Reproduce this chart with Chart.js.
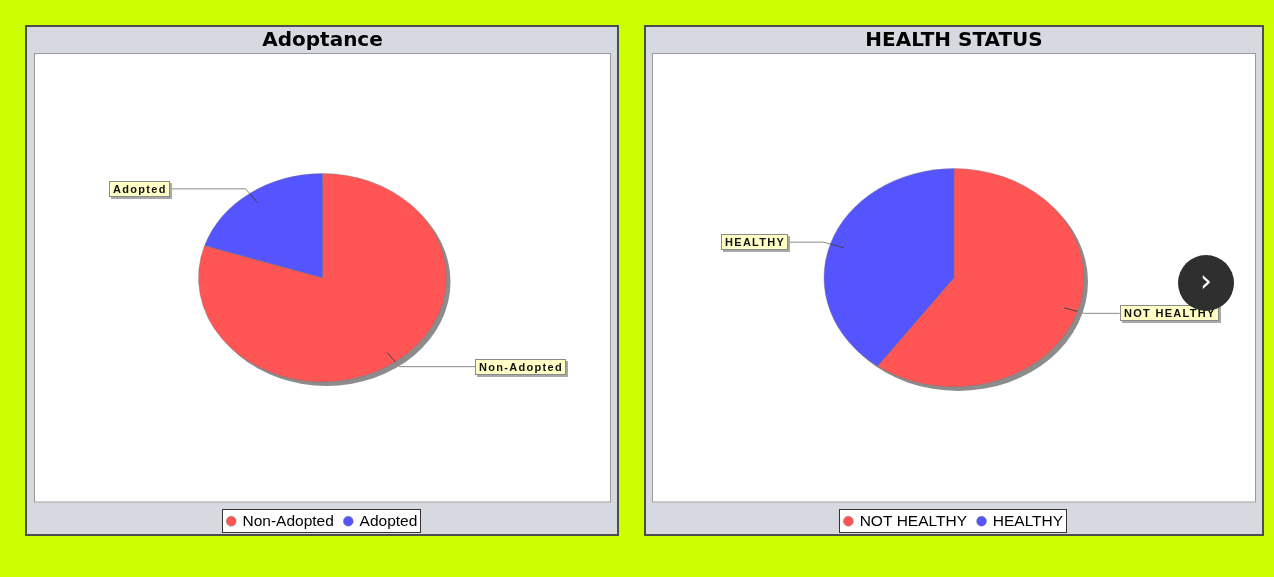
<!DOCTYPE html>
<html><head><meta charset="utf-8">
<script src="https://cdn.jsdelivr.net/npm/chart.js@4"></script>
<style>
html,body{margin:0;padding:0;background:#CCFF00;width:1274px;height:577px;overflow:hidden;}
.panel{position:absolute;box-sizing:border-box;border:2px solid #4d4d4d;background:#D6D9E0;overflow:hidden;}
.panel canvas{display:block;}
#nav{position:absolute;left:1178px;top:255px;width:56px;height:56px;border-radius:50%;background:#2f2f2f;color:#fff;font:30px 'DejaVu Sans';text-align:center;line-height:52px;}
</style></head><body>
<div class="panel" style="left:25px;top:25px;width:594px;height:511px"><canvas id="c1" width="590" height="507"></canvas></div>
<div class="panel" style="left:644px;top:25px;width:620px;height:511px"><canvas id="c2" width="616" height="507"></canvas></div>
<div id="nav">›</div>
<script>
const adoptTitle = 'Adoptance';
const adoptCategories = ['Non-Adopted', 'Adopted'];
const adoptValues = [80, 20];
const healthTitle = 'HEALTH STATUS';
const healthCategories = ['NOT HEALTHY', 'HEALTHY'];
const healthValues = [60, 40];
const sliceColors = ['#FF5555', '#5555FF'];

const FONT = "'Liberation Sans', Arial, sans-serif";
const TITLE_FONT = "'DejaVu Sans', sans-serif";

const plotBg = {
  id: 'plotBg',
  beforeDraw(chart) {
    const {ctx, chartArea: a} = chart;
    ctx.save();
    ctx.fillStyle = '#ffffff';
    ctx.fillRect(a.left, a.top, a.right - a.left, a.bottom - a.top);
    ctx.strokeStyle = '#9a9a9a';
    ctx.lineWidth = 1;
    ctx.strokeRect(a.left + 0.5, a.top + 0.5, a.right - a.left - 1, a.bottom - a.top - 1);
    const hb = chart.legend.legendHitBoxes;
    if (hb && hb.length) {
      let l = Infinity, r = -Infinity, t = Infinity, b = -Infinity;
      hb.forEach(h => { l = Math.min(l, h.left); r = Math.max(r, h.left + h.width); t = Math.min(t, h.top); b = Math.max(b, h.top + h.height); });
      const x0 = Math.round(l - 6), x1 = Math.round(r + 4);
      const cy = (t + b) / 2;
      const y0 = Math.round(cy - 12), y1 = Math.round(cy + 12);
      ctx.fillStyle = '#ffffff';
      ctx.fillRect(x0, y0, x1 - x0, y1 - y0);
      ctx.strokeStyle = '#333333';
      ctx.lineWidth = 1;
      ctx.strokeRect(x0 + 0.5, y0 + 0.5, x1 - x0 - 1, y1 - y0 - 1);
    }
    ctx.restore();
  }
};

const ellipse = {
  id: 'ellipse',
  beforeDatasetsDraw(chart, args, opts) {
    const el = chart.getDatasetMeta(0).data[0];
    if (!el) return;
    const {ctx} = chart;
    const k = opts.k;
    ctx.save();
    ctx.translate(el.x, el.y);
    ctx.scale(1, k);
    ctx.translate(-el.x, -el.y);
    ctx.fillStyle = '#8c8c8c';
    ctx.beginPath();
    ctx.arc(el.x + 4, el.y + 4 / k, el.outerRadius, 0, Math.PI * 2);
    ctx.fill();
  },
  afterDatasetsDraw(chart) {
    chart.ctx.restore();
  }
};

const pieLabels = {
  id: 'pieLabels',
  afterDraw(chart, args, opts) {
    const {ctx} = chart;
    const k = chart.options.plugins.ellipse.k;
    const labels = chart.data.labels;
    chart.getDatasetMeta(0).data.forEach((el, i) => {
      const mid = (el.startAngle + el.endAngle) / 2;
      const c = Math.cos(mid), s = Math.sin(mid);
      const r = el.outerRadius;
      const ax = el.x + c * r * 0.89, ay = el.y + s * r * k * 0.89;
      const ex = el.x + c * r * 1.055, ey = el.y + s * r * k * 1.055;
      const side = c < 0 ? -1 : 1;
      const edge = el.x + side * r * opts.gap;
      ctx.save();
      ctx.lineWidth = 1;
      ctx.strokeStyle = '#444444';
      ctx.beginPath();
      ctx.moveTo(ax, ay);
      ctx.lineTo(el.x + c * r, el.y + s * r * k);
      ctx.stroke();
      ctx.strokeStyle = '#8a8a8a';
      ctx.beginPath();
      ctx.moveTo(el.x + c * r, el.y + s * r * k);
      ctx.lineTo(ex, ey);
      ctx.lineTo(edge, ey);
      ctx.stroke();
      ctx.font = 'bold 11px ' + FONT;
      ctx.letterSpacing = '1.3px';
      const text = labels[i];
      const tw = ctx.measureText(text).width;
      const w = Math.round(tw + 7), h = 16;
      const bx = Math.round(side < 0 ? edge - w : edge);
      const by = Math.round(ey - h / 2);
      ctx.fillStyle = '#a8a8a8';
      ctx.fillRect(bx + 2, by + 2, w, h);
      ctx.fillStyle = '#FFFFC6';
      ctx.fillRect(bx, by, w, h);
      ctx.strokeStyle = '#8a8a8a';
      ctx.strokeRect(bx + 0.5, by + 0.5, w - 1, h - 1);
      ctx.fillStyle = '#111111';
      ctx.textBaseline = 'middle';
      ctx.textAlign = 'left';
      ctx.fillText(text, bx + 4, by + h / 2 + 0.5);
      ctx.restore();
    });
  }
};

function makeChart(id, title, cats, vals, radius, padL, padR, gap) {
  return new Chart(document.getElementById(id), {
    type: 'pie',
    data: {
      labels: cats,
      datasets: [{
        data: vals,
        backgroundColor: sliceColors,
        borderColor: 'rgba(120,120,120,0.7)',
        borderWidth: 0.6,
        radius: radius
      }]
    },
    options: {
      responsive: false,
      animation: false,
      events: [],
      layout: {padding: {left: padL, right: padR, top: 0, bottom: -5}},
      plugins: {
        title: {
          display: true, text: title, color: '#000',
          font: {family: TITLE_FONT, size: 20, weight: 'bold', lineHeight: 1.2},
          padding: {top: 2, bottom: 0}
        },
        legend: {
          display: true, position: 'bottom',
          labels: {
            usePointStyle: true, pointStyle: 'circle',
            boxWidth: 7, boxHeight: 7, padding: 11,
            color: '#000', font: {family: FONT, size: 15.5}
          }
        },
        tooltip: {enabled: false},
        ellipse: {k: 0.84},
        pieLabels: {gap: gap}
      }
    },
    plugins: [plotBg, ellipse, pieLabels]
  });
}

makeChart('c1', adoptTitle, adoptCategories, adoptValues, 124, 7, 6, 1.23);
makeChart('c2', healthTitle, healthCategories, healthValues, 130, 6, 6, 1.275);
</script>
</body></html>
